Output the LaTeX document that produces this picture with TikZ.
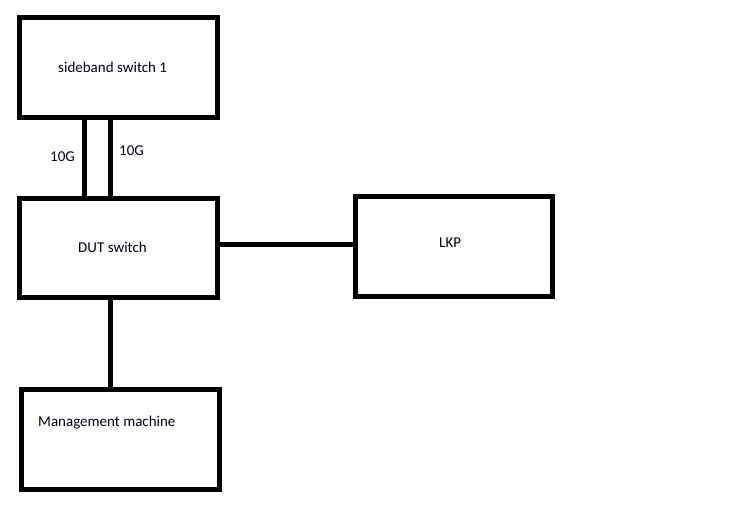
\documentclass[tikz,border=0pt]{standalone}
\usepackage{fontspec}
\setmainfont{Carlito}
\usetikzlibrary{calc}

\tikzset{
    box/.style={draw, rectangle, line width=5pt, inner sep=0pt, outer sep=0pt, minimum width=198pt, minimum height=100pt},
    link/.style={line width=5pt},
    txt/.style={anchor=base west, inner sep=0pt, font=\fontsize{15}{18}\selectfont, text=black!90!blue}
}

\begin{document}
\begin{tikzpicture}[x=1pt, y=-1pt]
        \useasboundingbox (0, 0) rectangle (734, 510);
        \node [box] (sb) at (118.5, 67.5) {};
        \node [box, minimum height=99pt] (dut) at (118.5, 248) {};
        \node [box, minimum width=197pt] (lkp) at (454, 246.5) {};
        \node [box] (mgmt) at (120.5, 439.5) {};
        \node [txt] (sbt) at (58, 73) {sideband switch 1};
        \node [txt] (dutt) at (78, 253) {DUT switch};
        \node [txt] (lkpt) at (439, 248) {LKP};
        \node [txt] (mgmtt) at (38, 427) {Management machine};
        \node [txt] (la) at (50, 162) {10G};
        \node [txt] (lb) at (119, 156) {10G};
        \draw [link] ([xshift=-34pt]sb.south) -- ([xshift=-34pt]dut.north);
        \draw [link] ([xshift=-8.5pt]sb.south) -- ([xshift=-8.5pt]dut.north);
        \draw [link] ([yshift=3pt]dut.east) -- ([yshift=3pt]dut.east -| lkp.west);
        \draw [link] ([xshift=-8.5pt]dut.south) -- ([xshift=-8.5pt]dut.south |- mgmt.north);
    \end{tikzpicture}
\end{document}
